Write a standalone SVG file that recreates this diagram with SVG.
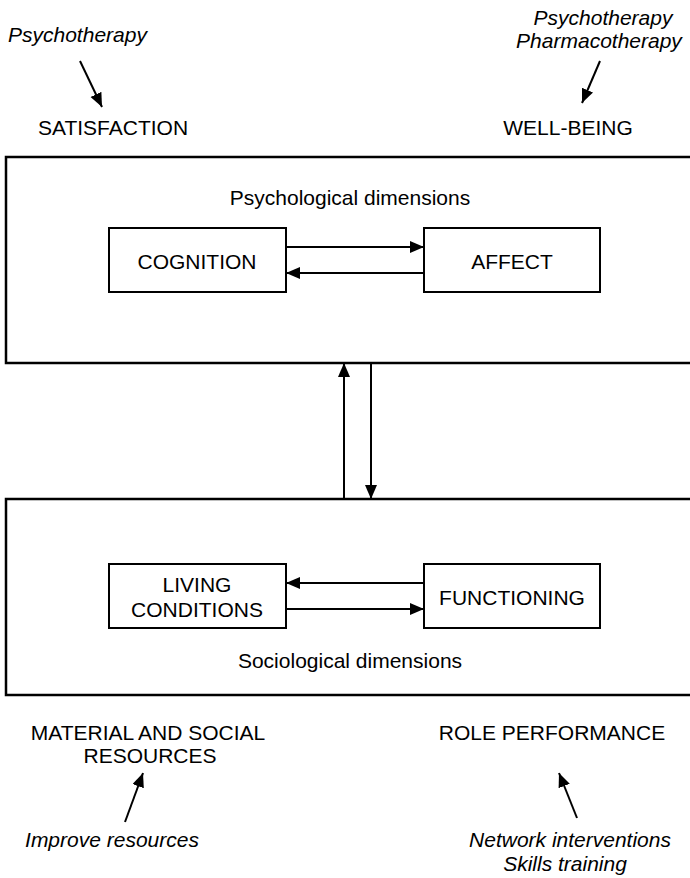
<svg xmlns="http://www.w3.org/2000/svg" width="690" height="878" viewBox="0 0 690 878">
<style>
text{font-family:"Liberation Sans",Arial,sans-serif;font-size:21px;fill:#000}
.i{font-style:italic}
.c{text-anchor:middle}
.big{fill:none;stroke:#000;stroke-width:2.5}
.box{fill:#fff;stroke:#000;stroke-width:2}
.ln{stroke:#000;stroke-width:2;fill:none;marker-end:url(#ah)}
</style>
<defs>
<marker id="ah" markerUnits="userSpaceOnUse" markerWidth="16" markerHeight="14" refX="14" refY="6" orient="auto" viewBox="0 0 16 14">
<path d="M0,0 L14,6 L0,12 z" fill="#000"/>
</marker>
</defs>
<rect width="690" height="878" fill="#fff"/>
<g id="psych-block">
<rect class="big" x="6" y="157" width="700" height="206"/>
<text class="c" x="350" y="205">Psychological dimensions</text>
</g>
<g id="socio-block">
<rect class="big" x="6" y="499" width="700" height="196"/>
<text class="c" x="350" y="668">Sociological dimensions</text>
</g>
<g id="cognition">
<rect class="box" x="109" y="228" width="177" height="64"/>
<text class="c" x="197" y="269">COGNITION</text>
</g>
<g id="affect">
<rect class="box" x="424" y="228" width="176" height="64"/>
<text class="c" x="512" y="269">AFFECT</text>
</g>
<g id="living">
<rect class="box" x="109" y="564" width="177" height="64"/>
<text class="c" x="197" y="592">LIVING</text>
<text class="c" x="197" y="617">CONDITIONS</text>
</g>
<g id="functioning">
<rect class="box" x="424" y="564" width="176" height="64"/>
<text class="c" x="512" y="605">FUNCTIONING</text>
</g>
<g id="satisfaction">
<text class="i" x="8" y="42">Psychotherapy</text>
<text class="c" x="113" y="135">SATISFACTION</text>
</g>
<g id="wellbeing">
<text class="i c" x="603" y="25">Psychotherapy</text>
<text class="i c" x="599" y="48">Pharmacotherapy</text>
<text class="c" x="568" y="135">WELL-BEING</text>
</g>
<g id="resources">
<text class="c" x="148" y="740">MATERIAL AND SOCIAL</text>
<text class="c" x="150" y="763">RESOURCES</text>
<text class="i c" x="112" y="847">Improve resources</text>
</g>
<g id="role">
<text class="c" x="552" y="740">ROLE PERFORMANCE</text>
<text class="i c" x="570" y="847">Network interventions</text>
<text class="i c" x="565" y="871">Skills training</text>
</g>
<g id="connectors">
<line class="ln" x1="286" y1="247" x2="424" y2="247"/>
<line class="ln" x1="424" y1="273" x2="286" y2="273"/>
<line class="ln" x1="424" y1="583" x2="286" y2="583"/>
<line class="ln" x1="286" y1="609" x2="424" y2="609"/>
<line class="ln" x1="344" y1="499" x2="344" y2="363"/>
<line class="ln" x1="371" y1="363" x2="371" y2="499"/>
<line class="ln" x1="80" y1="61" x2="102" y2="107"/>
<line class="ln" x1="600" y1="61" x2="582" y2="103"/>
<line class="ln" x1="125" y1="822" x2="143" y2="773"/>
<line class="ln" x1="577" y1="818" x2="559" y2="773"/>
</g>
</svg>
